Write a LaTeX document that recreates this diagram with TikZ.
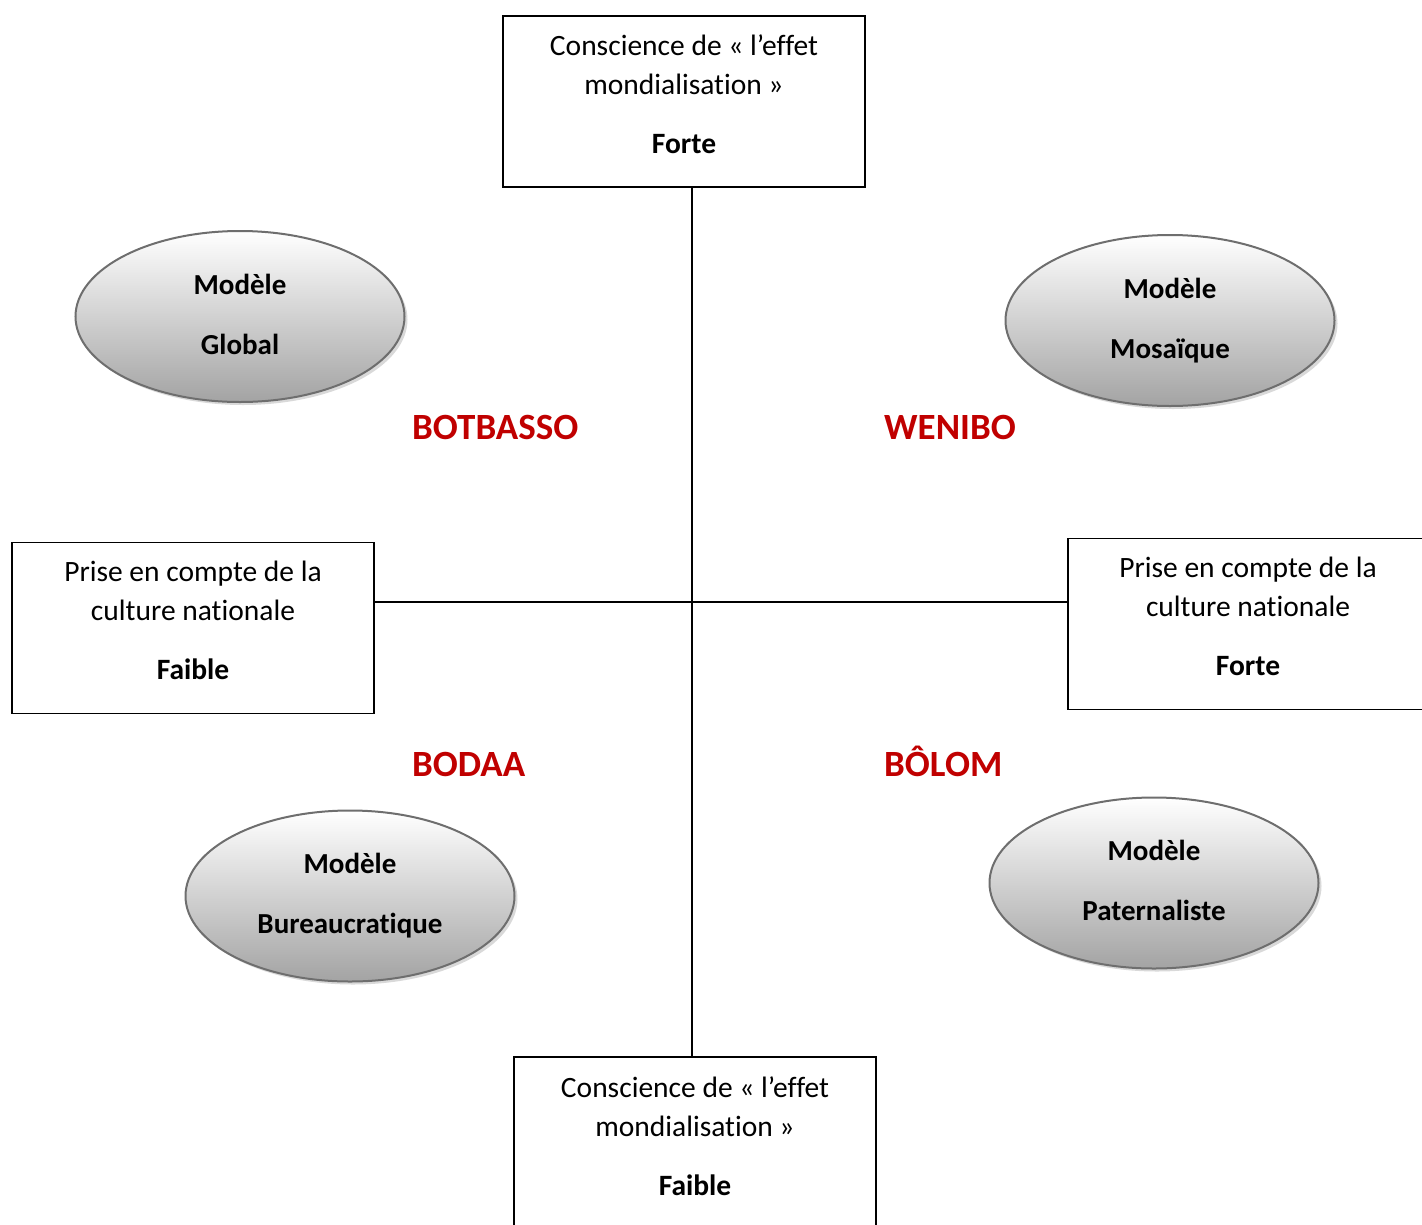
\documentclass[tikz,border=0pt]{standalone}
\usepackage{fontspec}
\setmainfont{Carlito}[RawFeature={-liga;-dlig;-clig;-calt}]
\usetikzlibrary{shapes.geometric,shadows}
\definecolor{redlab}{HTML}{C00000}
\definecolor{ellborder}{HTML}{6E6E6E}
\begin{document}
\begin{tikzpicture}[x=1pt,y=-1pt,
  box/.style={draw=black,line width=1.5pt,fill=white,minimum width=362pt,minimum height=171pt,inner sep=0pt},
  txt/.style={align=center,inner sep=0pt,font=\fontsize{29.5}{39}\selectfont},
  model/.style={ellipse,draw=ellborder,line width=2pt,minimum width=329pt,minimum height=171pt,inner sep=0pt,
    top color=white,bottom color=black!36,align=center,font=\fontsize{29}{60}\selectfont\bfseries,
    drop shadow={shadow xshift=3pt,shadow yshift=-3pt,fill=black!25,opacity=0.6}},
  quad/.style={anchor=base west,inner sep=0pt,text=redlab,font=\fontsize{37}{44}\selectfont\bfseries},
  axis/.style={line width=2pt,black}]
\clip (0,0) rectangle (1422,1224);
% boxes
\node[box] (top) at (684,101.5) {};
\node[box] (bot) at (695,1142.5) {};
\node[box] (lft) at (193,628) {};
\node[box] (rgt) at (1249,624) {};
% axes
\draw[axis] (692,187) -- (692,620) coordinate (mid);
\draw[axis] (mid) -- (692,1057);
\draw[axis] (lft.east) ++(-3pt,-26) coordinate (hl) -- (hl -| rgt.west) coordinate (hr);
% redraw boxes on top
\node[box] at (top) {};
\node[box] at (bot) {};
\node[box] at (lft) {};
\node[box] at (rgt) {};
% box texts
\node[txt] (topt) at (684,94) {Conscience de « l’effet\\mondialisation »\\[20pt]\textbf{Forte}};
\node[txt] (bott) at (695,1136) {Conscience de « l’effet\\mondialisation »\\[20pt]\textbf{Faible}};
\node[txt] (lftt) at (193,620) {Prise en compte de la\\culture nationale\\[20pt]\textbf{Faible}};
\node[txt] (rgtt) at (1248,616) {Prise en compte de la\\culture nationale\\[20pt]\textbf{Forte}};
% models
\node[model] (glob) at (240,316.5) {Modèle\\Global\vphantom{q}};
\node[model] (mosa) at (1170,320.5) {Modèle\\Mosaïque};
\node[model] (bur) at (350,896) {Modèle\\Bureaucratique};
\node[model] (pat) at (1154,883) {Modèle\\Paternaliste\vphantom{q}};
% quadrant labels
\node[quad] (q1) at (412,439) {BOTBASSO};
\node[quad] (q2) at (884,439) {WENIBO};
\node[quad] (q3) at (412,776) {BODAA};
\node[quad] (q4) at (884,776) {BÔLOM};
\end{tikzpicture}
\end{document}
